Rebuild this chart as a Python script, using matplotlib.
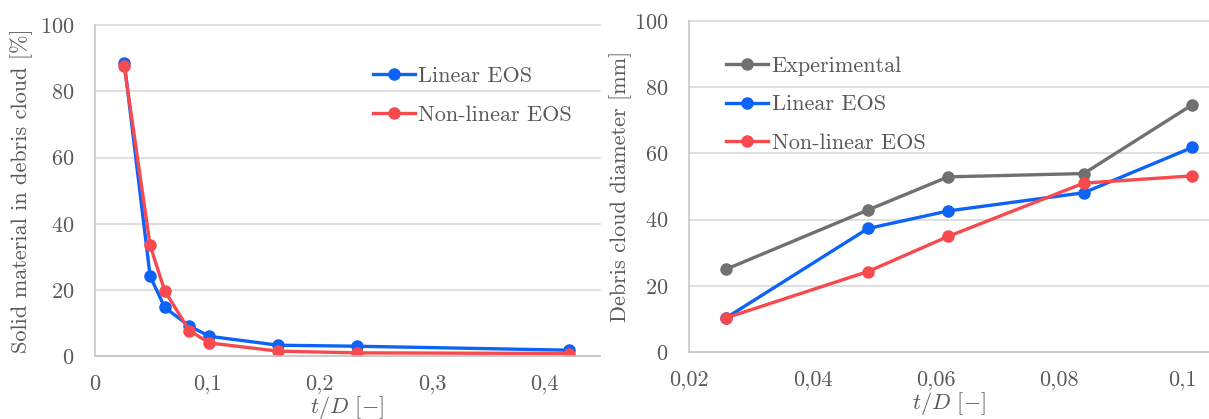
import matplotlib
matplotlib.use("Agg")
import matplotlib.pyplot as plt
from matplotlib.ticker import FuncFormatter

# left chart: solid material fraction
td_left = [0.026, 0.049, 0.062, 0.084, 0.1017, 0.163, 0.2334, 0.4217]
solid_linear = [88.7, 24.2, 14.7, 9.1, 6.0, 3.3, 3.0, 1.8]
solid_nonlinear = [87.6, 33.5, 19.7, 7.7, 4.0, 1.5, 1.0, 0.8]

# right chart: debris cloud diameter
td_right = [0.026, 0.049, 0.062, 0.084, 0.1016]
diam_exp = [25.0, 42.9, 52.9, 53.9, 74.7]
diam_linear = [10.3, 37.3, 42.6, 48.1, 61.8]
diam_nonlinear = [10.3, 24.3, 34.9, 51.0, 53.2]

BLUE = "#0d63f6"
RED = "#f74a4f"
GRAY = "#707070"
TXT = "#595959"
FS = 16

plt.rcParams["font.family"] = ["cmr10", "DejaVu Serif"]
plt.rcParams["mathtext.fontset"] = "cm"
plt.rcParams["axes.formatter.use_mathtext"] = True
plt.rcParams["axes.unicode_minus"] = False

def comma(v, pos):
    s = ("%.2f" % v).rstrip("0").rstrip(".")
    return s.replace(".", ",")

def style(ax):
    ax.grid(axis="y", color="#d9d9d9", lw=1.2)
    ax.set_axisbelow(True)
    for s in ["top", "right"]:
        ax.spines[s].set_visible(False)
    for s in ["left", "bottom"]:
        ax.spines[s].set_color("#c8c8c8")
        ax.spines[s].set_linewidth(1.2)
    ax.tick_params(length=0, labelsize=FS, labelcolor=TXT)
    ax.tick_params(axis="y", pad=15)
    ax.tick_params(axis="x", pad=13)
    ax.xaxis.set_major_formatter(FuncFormatter(comma))
    ax.set_ylim(0, 100)
    ax.set_yticks(range(0, 101, 20))
    for gl in ax.get_ygridlines():
        gl.set_clip_on(False)

kw = dict(lw=2.4, marker="o", ms=8)
leg = dict(frameon=False, fontsize=FS, labelcolor=TXT, handlelength=1.9,
           handletextpad=0.15, labelspacing=0.85, borderpad=0, borderaxespad=0)
xlab = r"$t/D$ [$-$]"

fig = plt.figure(figsize=(12.09, 4.19), dpi=100)
ax1 = fig.add_axes([0.0786, 0.150, 0.4175, 0.790])
ax2 = fig.add_axes([0.5700, 0.160, 0.4300, 0.790])

ax1.plot(td_left, solid_linear, color=BLUE, label="Linear EOS", **kw)
ax1.plot(td_left, solid_nonlinear, color=RED, label="Non-linear EOS", **kw)
style(ax1)
ax1.set_xlim(0, 0.449)
ax1.set_xticks([0, 0.1, 0.2, 0.3, 0.4])
ax1.set_ylabel("Solid material in debris cloud [%]", fontsize=FS, color=TXT, labelpad=5)
ax1.set_xlabel(xlab, fontsize=FS, color=TXT, labelpad=0)
ax1.legend(loc="upper left", bbox_to_anchor=(0.55, 0.875), **leg)

ax2.plot(td_right, diam_exp, color=GRAY, label="Experimental", **kw)
ax2.plot(td_right, diam_linear, color=BLUE, label="Linear EOS", **kw)
ax2.plot(td_right, diam_nonlinear, color=RED, label="Non-linear EOS", **kw)
style(ax2)
ax2.set_xlim(0.02, 0.1043)
ax2.set_xticks([0.02, 0.04, 0.06, 0.08, 0.1])
ax2.set_ylabel("Debris cloud diameter [mm]", fontsize=FS, color=TXT, labelpad=1)
ax2.set_xlabel(xlab, fontsize=FS, color=TXT, labelpad=0)
ax2.legend(loc="upper left", bbox_to_anchor=(0.071, 0.893), **leg)

fig.savefig("out.png", dpi=100)
